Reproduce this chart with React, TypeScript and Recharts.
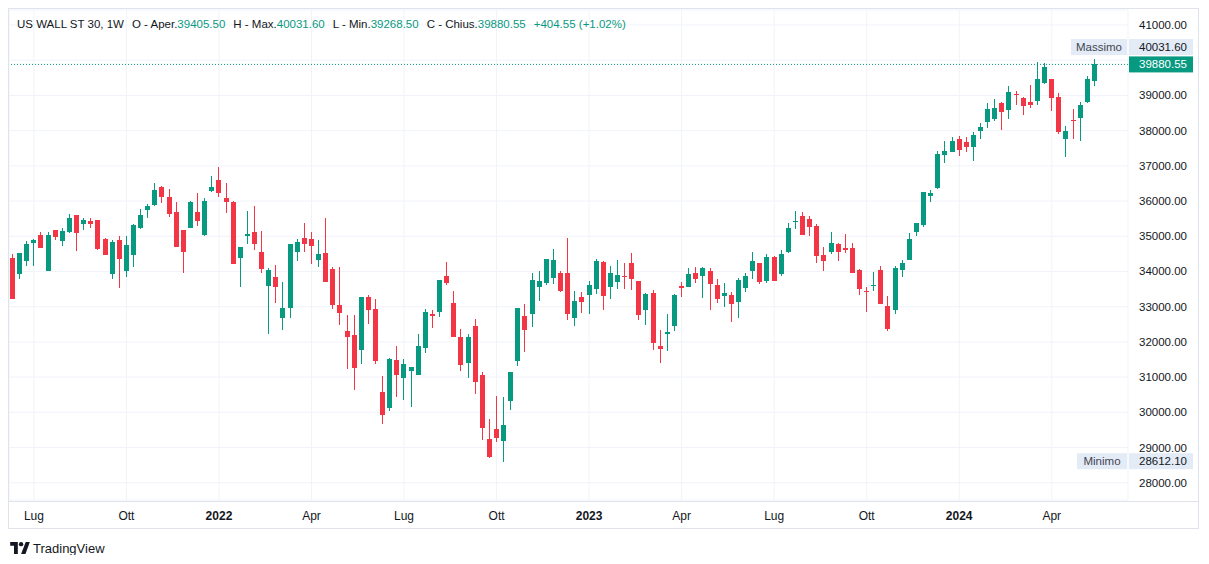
import { Bar, CartesianGrid, ComposedChart, ReferenceLine, XAxis, YAxis } from "recharts";

const GREEN = "#089981";
const RED = "#F23645";
const TEXT = "#131722";
const GRID = "#f0f3fa";
const BADGE = "#e3ebf7";
const FONT = "'Liberation Sans', Arial, sans-serif";

// weekly bars, first week starting Mon 14 Jun 2021
const firstWeek = "2021-06-14";

const opens = [
  34373, 33938, 34307, 34818, 35036, 34023, 35178, 34875, 35131, 35604,
  35358, 35434, 35462, 34922, 33938, 34894, 34023, 34477, 35244, 35755,
  35888, 36399, 36115, 35689, 35178, 35244, 35689, 35036, 36286, 36598,
  36087, 35973, 34392, 35017, 35121, 34553, 33597, 33843, 32688, 32972,
  34563, 34951, 34932, 34335, 34525, 34070, 33048, 32310, 32196, 31779,
  33275, 32934, 30577, 30132, 31486, 30984, 31183, 31069, 31836, 32792,
  32859, 33872, 33105, 32139, 31410, 32452, 31060, 29242, 29526, 29195,
  30331, 31467, 32736, 32802, 33569, 33682, 33824, 33957, 33957, 32688,
  33275, 33341, 33512, 34269, 33569, 33711, 33872, 34241, 33730, 32915,
  33389, 31884, 32234, 32461, 33588, 33569, 33957, 33872, 34014, 33616,
  33304, 33332, 33143, 33540, 34023, 34241, 33739, 34411, 33938, 34553,
  35415, 35576, 35490, 35292, 34468, 34563, 34780, 34667, 34667, 34042,
  33446, 33597, 34042, 33029, 32915, 34051, 34335, 35131, 35320, 36153,
  36371, 37317, 37403, 37762, 37677, 37545, 37990, 38255, 38340, 38785,
  38595, 39040, 38927, 38813, 38851, 39353, 39466, 38955, 37762, 38292,
  38368, 38823, 39405.5,
];

const highs = [
  34496, 34525, 34875, 34922, 35121, 35121, 35178, 35244, 35632, 35604,
  35528, 35519, 35462, 34951, 34894, 35008, 35008, 35348, 35774, 35916,
  36513, 36428, 36342, 35973, 35178, 36002, 36238, 36087, 36712, 36967,
  36513, 36002, 34695, 35718, 35860, 35150, 34099, 34184, 33701, 34780,
  34922, 35377, 35121, 34894, 35519, 34137, 34137, 32764, 32764, 33275,
  33332, 33218, 31032, 31543, 31884, 31514, 31287, 32224, 32934, 32906,
  33758, 34269, 33446, 32366, 32224, 32650, 31145, 29810, 30473, 30445,
  31145, 32963, 33076, 33957, 34014, 34354, 34638, 34014, 34951, 33446,
  33417, 33730, 34354, 34298, 34156, 34326, 34241, 34525, 33730, 33389,
  33474, 32347, 32792, 33360, 33701, 34099, 34127, 34127, 34099, 33787,
  33673, 33417, 33815, 33957, 34553, 34241, 34496, 34440, 34610, 35377,
  35718, 35689, 35576, 35348, 34695, 35121, 34809, 35064, 34809, 34070,
  33559, 33985, 34156, 33313, 34156, 34326, 35093, 35377, 36257, 36314,
  37422, 37706, 37819, 37848, 37819, 37961, 38217, 38785, 38898, 38813,
  39268, 39126, 38955, 39296, 39949, 39921, 39466, 39069, 38132, 38614,
  38813, 39552, 40031.6,
];

const lows = [
  33218, 33777, 34165, 34165, 34676, 34014, 34894, 34733, 35083, 34582,
  35178, 35244, 34619, 34477, 33796, 33540, 33853, 34137, 35216, 35528,
  35860, 35954, 35557, 34705, 33966, 35244, 35301, 35008, 36257, 36125,
  35670, 34222, 33569, 34780, 34619, 33966, 32234, 33114, 32347, 32688,
  34307, 34563, 34222, 34137, 33711, 32944, 32489, 31240, 30643, 31382,
  32518, 31382, 29678, 30047, 30445, 30359, 30160, 31069, 31694, 32404,
  32717, 33626, 32149, 31183, 30984, 30530, 29223, 28712, 29166, 28612.1,
  30075, 31325, 31723, 32433, 33171, 33625, 33654, 33427, 32631, 32461,
  32830, 32802, 33370, 32915, 33228, 33512, 33512, 33483, 32631, 32489,
  31779, 31410, 31751, 32319, 33285, 33569, 33682, 33256, 32915, 33114,
  33001, 32575, 32688, 33427, 33796, 33654, 33682, 33739, 33881, 34525,
  35206, 35036, 35008, 34250, 34023, 34506, 34307, 34534, 33966, 33341,
  32859, 33455, 33086, 32309, 32802, 33853, 34335, 35017, 35273, 35983,
  36342, 37090, 37403, 37289, 37403, 37138, 37762, 38084, 38283, 38027,
  38340, 38728, 38444, 38643, 38737, 39324, 38567, 37904, 37251, 37762,
  37705, 38794, 39268.5,
];

const closes = [
  33218, 34525, 34780, 34894, 34676, 35036, 34989, 35159, 35519, 35102,
  35462, 35358, 34648, 34477, 34837, 34364, 34752, 35320, 35604, 35860,
  36314, 36125, 35642, 34705, 34563, 35973, 35443, 36002, 36399, 36238,
  35983, 34222, 34695, 35064, 34790, 34080, 34042, 33550, 32963, 34780,
  34837, 34790, 34733, 34496, 33711, 33062, 32830, 32149, 31268, 33275,
  32915, 31467, 29933, 31514, 31069, 31372, 31287, 31884, 32849, 32745,
  33758, 33673, 32149, 31353, 32139, 30871, 29564, 28740, 29280, 29640,
  31145, 32963, 32347, 33758, 33730, 34354, 34326, 33455, 32802, 33162,
  33143, 33616, 34298, 33313, 33957, 33900, 33853, 33796, 32773, 33360,
  31978, 31808, 32281, 33332, 33540, 33928, 33796, 34099, 33654, 33228,
  33389, 33086, 33758, 33872, 34298, 33711, 34411, 33739, 34496, 35235,
  35434, 35036, 35263, 34449, 34307, 34809, 34563, 34619, 33966, 33512,
  33427, 33616, 33086, 32366, 34099, 34250, 34922, 35377, 36257, 36229,
  37336, 37422, 37706, 37459, 37545, 37876, 38103, 38614, 38643, 38539,
  39097, 39002, 38700, 38728, 39466, 39807, 38936, 37961, 37990, 38264,
  38728, 39466, 39880.55,
];

const tickWeeks = [
  "2021-07-05", "2021-10-04", "2022-01-03", "2022-04-04", "2022-07-04", "2022-10-03",
  "2023-01-02", "2023-04-03", "2023-07-03", "2023-10-02", "2024-01-01", "2024-04-01",
];
const tickLabels = ["Lug", "Ott", "2022", "Apr", "Lug", "Ott", "2023", "Apr", "Lug", "Ott", "2024", "Apr"];
const priceTicks = [28000, 29000, 30000, 31000, 32000, 33000, 34000, 35000, 36000, 37000, 38000, 39000, 40000, 41000];

const lastPrice = 39880.55;
const maxPrice = 40031.6;
const minPrice = 28612.1;

const startMs = Date.parse(firstWeek + "T00:00:00Z");
const data = opens.map((open, i) => ({
  week: new Date(startMs + i * 7 * 86400000).toISOString().slice(0, 10),
  open,
  high: highs[i],
  low: lows[i],
  close: closes[i],
}));

const PLOT_RIGHT = 1119;

function Candle(props: any) {
  const { x, y, width, height, payload } = props;
  if (!payload || payload.high == null) return null;
  const { open, high, low, close } = payload;
  const top = Math.min(y, y + height);
  const h = Math.abs(height);
  const k = high === low ? 0 : h / (high - low);
  const toY = (v: number) => top + (high - v) * k;
  const color = close >= open ? GREEN : RED;
  const cx = Math.round(x + width / 2 - 0.5);
  const bTop = Math.round(toY(Math.max(open, close)));
  const bBot = Math.round(toY(Math.min(open, close)));
  return (
    <g>
      <rect x={cx} y={Math.round(top)} width={1} height={Math.max(1, Math.round(h))} fill={color} />
      <rect x={cx - 2} y={bTop} width={5} height={Math.max(1, bBot - bTop)} fill={color} />
    </g>
  );
}

function PriceTick(props: any) {
  const { y, payload } = props;
  // the last-price badge covers the label next to it
  if (Math.abs(payload.value - lastPrice) < 300) return null;
  return (
    <text x={PLOT_RIGHT + 11} y={y} dy={4} fontSize={11.5} fontFamily={FONT} fill={TEXT} textAnchor="start">
      {Number(payload.value).toFixed(2)}
    </text>
  );
}

function TimeTick(props: any) {
  const { x, y, payload } = props;
  const idx = tickWeeks.indexOf(payload.value);
  const label = tickLabels[idx] ?? "";
  const isYear = /^\d{4}$/.test(label);
  return (
    <text x={x} y={y + 12} fontSize={12} fontFamily={FONT} fill={TEXT} textAnchor="middle" fontWeight={isYear ? "bold" : "normal"}>
      {label}
    </text>
  );
}

function badge(
  cy: number,
  value: string,
  opts: { tag?: string; tagWidth?: number; fill: string; color: string },
) {
  return (
    <g>
      {opts.tag && (
        <g>
          <rect x={PLOT_RIGHT - opts.tagWidth!} y={cy - 8} width={opts.tagWidth! - 1} height={16} fill={BADGE} />
          <text x={PLOT_RIGHT - opts.tagWidth! / 2 - 0.5} y={cy + 4} fontSize={11.5} fontFamily={FONT} fill="#434651" textAnchor="middle">
            {opts.tag}
          </text>
        </g>
      )}
      <rect x={PLOT_RIGHT + 1} y={cy - 8} width={64} height={16} fill={opts.fill} />
      <text x={PLOT_RIGHT + 11} y={cy + 4} fontSize={11.5} fontFamily={FONT} fill={opts.color} textAnchor="start">
        {value}
      </text>
    </g>
  );
}

function HeaderItem({ label, value }: { label?: string; value?: string }) {
  return (
    <span style={{ whiteSpace: "nowrap" }}>
      {label && <span style={{ color: TEXT }}>{label}</span>}
      {value && <span style={{ color: GREEN }}>{value}</span>}
    </span>
  );
}

export default function App() {
  return (
    <div style={{ fontFamily: FONT }}>
      <div
        style={{
          position: "relative",
          width: 1191,
          height: 521,
          border: "1px solid #e0e3eb",
          boxSizing: "border-box",
        }}
      >
        <ComposedChart width={1189} height={519} data={data} margin={{ top: 1, right: 0, bottom: 0, left: 0 }}>
          <CartesianGrid stroke={GRID} />
          <XAxis
            dataKey="week"
            ticks={tickWeeks}
            interval={0}
            height={28}
            padding={{ left: 0, right: 30 }}
            axisLine={false}
            tickLine={false}
            tick={<TimeTick />}
          />
          <YAxis
            orientation="right"
            domain={[27510, 41426]}
            ticks={priceTicks}
            allowDataOverflow
            width={70}
            axisLine={false}
            tickLine={false}
            tick={<PriceTick />}
          />
          <Bar dataKey={(d: any) => [d.low, d.high]} shape={<Candle />} barSize={5} isAnimationActive={false} />
          <ReferenceLine
            y={maxPrice}
            strokeOpacity={0}
            label={(p: any) =>
              badge(p.viewBox.y - 12, maxPrice.toFixed(2), { tag: "Massimo", tagWidth: 57, fill: BADGE, color: TEXT })
            }
          />
          <ReferenceLine
            y={minPrice}
            strokeOpacity={0}
            label={(p: any) =>
              badge(p.viewBox.y, minPrice.toFixed(2), { tag: "Minimo", tagWidth: 51, fill: BADGE, color: TEXT })
            }
          />
          <ReferenceLine
            y={lastPrice}
            stroke={GREEN}
            strokeDasharray="1 2"
            label={(p: any) => badge(p.viewBox.y, lastPrice.toFixed(2), { fill: GREEN, color: "#ffffff" })}
          />
        </ComposedChart>
        <div style={{ position: "absolute", left: 0, right: 0, top: 492, height: 1, background: "#e0e3eb" }} />
        <div
          style={{
            position: "absolute",
            left: 8,
            top: 7,
            display: "flex",
            gap: 8,
            fontSize: 11.5,
            lineHeight: "16px",
            height: 16,
          }}
        >
          <HeaderItem label="US WALL ST 30, 1W" />
          <HeaderItem label="O - Aper." value="39405.50" />
          <HeaderItem label="H - Max." value="40031.60" />
          <HeaderItem label="L - Min." value="39268.50" />
          <HeaderItem label="C - Chius." value="39880.55" />
          <HeaderItem value="+404.55 (+1.02%)" />
        </div>
      </div>
      <div style={{ display: "flex", alignItems: "center", marginTop: 12, marginLeft: 2, height: 14 }}>
        <svg width={20} height={12} viewBox="0 0 36 22">
          <path d="M14 22H7V7H0V0h14v22z" fill={TEXT} />
          <circle cx={20} cy={4} r={4} fill={TEXT} />
          <path d="M28 22h-8L28.5 0h7.5L28 22z" fill={TEXT} />
        </svg>
        <span style={{ marginLeft: 3, fontSize: 13, color: TEXT }}>TradingView</span>
      </div>
    </div>
  );
}
